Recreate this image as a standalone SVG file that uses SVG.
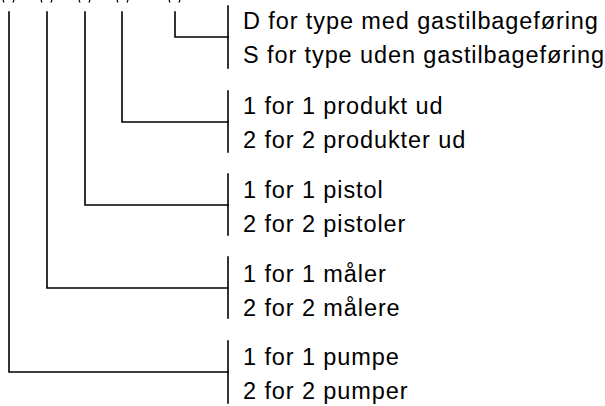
<svg xmlns="http://www.w3.org/2000/svg" width="605" height="406" viewBox="0 0 605 406">
<style>
.ln{stroke:#000;stroke-width:1.6;fill:none;stroke-linecap:square}
.tk{stroke:#000;stroke-width:1.2;fill:none}
.t{font-family:"Liberation Sans",Arial,sans-serif;font-size:23.5px;letter-spacing:0.9px;fill:#000}
</style>
<rect width="605" height="406" fill="#fff"/>
<g id="cutoff-marks">
<path class="tk" d="M3,0 L4,2.5 M14,0 L13,2.5 M41,0 L42,2.5 M52,0 L51,2.5 M79,0 L80,2.5 M90,0 L89,2.5 M117,0 L118,2.5 M128,0 L127,2.5 M169,0 L170,2.5 M180,0 L179,2.5"/>
</g>
<g id="connectors">
<path class="ln" d="M9,12 V372 H228"/>
<path class="ln" d="M47,12 V288 H228"/>
<path class="ln" d="M85,12 V205 H228"/>
<path class="ln" d="M122,12 V122 H228"/>
<path class="ln" d="M175,12 V37 H228"/>
</g>
<g id="node-type">
<path class="ln" d="M228,6 V68"/>
<text class="t" x="243" y="29">D for type med gastilbageføring</text>
<text class="t" x="243" y="63">S for type uden gastilbageføring</text>
</g>
<g id="node-produkt">
<path class="ln" d="M228,91 V152"/>
<text class="t" x="243" y="114">1 for 1 produkt ud</text>
<text class="t" x="243" y="148">2 for 2 produkter ud</text>
</g>
<g id="node-pistol">
<path class="ln" d="M228,174 V235"/>
<text class="t" x="243" y="198">1 for 1 pistol</text>
<text class="t" x="243" y="232">2 for 2 pistoler</text>
</g>
<g id="node-maaler">
<path class="ln" d="M228,257 V318"/>
<text class="t" x="243" y="282">1 for 1 måler</text>
<text class="t" x="243" y="316">2 for 2 målere</text>
</g>
<g id="node-pumpe">
<path class="ln" d="M228,341 V403"/>
<text class="t" x="243" y="365">1 for 1 pumpe</text>
<text class="t" x="243" y="399">2 for 2 pumper</text>
</g>
</svg>
